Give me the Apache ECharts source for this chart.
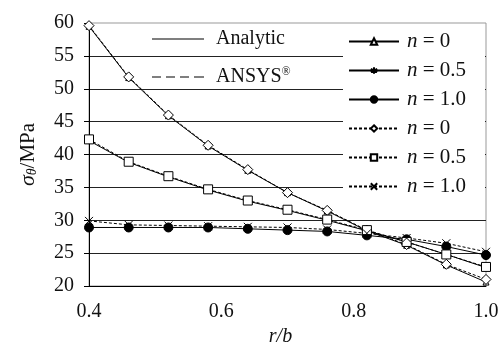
<!DOCTYPE html>
<html>
<head>
<meta charset="utf-8">
<script src="https://cdn.jsdelivr.net/npm/echarts@6/dist/echarts.min.js"></script>
<style>
  html, body { margin: 0; padding: 0; background: #fff; }
  #main { width: 502px; height: 347px; }
</style>
</head>
<body>
<div id="main"></div>
<script>
  // r/b positions
  var rb = [0.40, 0.46, 0.52, 0.58, 0.64, 0.70, 0.76, 0.82, 0.88, 0.94, 1.00];
  // analytic
  var anN0  = [59.5, 51.7, 45.9, 41.3, 37.6, 34.2, 31.4, 28.4, 26.2, 23.2, 20.6];
  var anN05 = [42.1, 38.8, 36.6, 34.6, 32.9, 31.5, 30.0, 28.4, 26.7, 24.8, 22.8];
  var anN1  = [28.9, 28.9, 28.9, 28.9, 28.7, 28.5, 28.3, 27.7, 27.1, 26.0, 24.7];
  // ANSYS
  var feN0  = [59.6, 51.8, 46.0, 41.4, 37.7, 34.2, 31.5, 28.5, 26.3, 23.3, 21.0];
  var feN05 = [42.3, 38.9, 36.7, 34.7, 33.0, 31.6, 30.1, 28.5, 26.7, 24.8, 22.9];
  var feN1  = [29.9, 29.3, 29.2, 29.1, 29.0, 28.9, 28.6, 28.0, 27.3, 26.5, 25.2];
  var yTicks = [20, 25, 30, 35, 40, 45, 50, 55, 60];

  var fnt = 'Liberation Serif';
  var starPath = 'path://M5,0L5,10M0.7,2.5L9.3,7.5M9.3,2.5L0.7,7.5';
  var crossPath = 'path://M0,0L10,10M10,0L0,10';
  var solidIcon = 'path://M0,0h52v1h-52z';
  var dashIcon = 'path://M0,0h9v1h-9zM14,0h9v1h-9zM28,0h9v1h-9zM42,0h10v1h-10z';

  function pts(ys) {
    return rb.map(function (x, i) { return [x, ys[i]]; });
  }
  var labels = {
    A0: '{i|n} = 0', A05: '{i|n} = 0.5', A1: '{i|n} = 1.0',
    F0: '{i|n} = 0', F05: '{i|n} = 0.5', F1: '{i|n} = 1.0'
  };

  function line(name, ys, dashed, symbol, size, fill) {
    return {
      name: name,
      type: 'line',
      data: pts(ys),
      symbol: symbol,
      symbolSize: size,
      showSymbol: true,
      lineStyle: { color: '#000', width: 1, type: dashed ? [3, 2] : 'solid' },
      itemStyle: { color: fill, borderColor: '#000', borderWidth: 1 },
      emphasis: { disabled: true },
      z: 3
    };
  }

  var option = {
    animation: false,
    backgroundColor: '#fff',
    textStyle: { fontFamily: fnt, color: '#111' },
    grid: {
      left: 89, right: 16, top: 23, bottom: 61,
      show: true, borderColor: '#999', borderWidth: 1,
      outerBoundsMode: 'none',
      containLabel: false
    },
    graphic: [{
      type: 'rect',
      z: 1,
      shape: { x: 343, y: 24, width: 142, height: 194 },
      style: { fill: '#fff' }
    }],
    legend: [{
      data: [{ name: 'Analytic', icon: solidIcon }, { name: 'ANSYS', icon: dashIcon }],
      orient: 'vertical',
      left: 147, top: 24,
      itemWidth: 52, itemHeight: 1, itemGap: 17,
      formatter: function (n) { return n === 'ANSYS' ? 'ANSYS{sup|®}' : n; },
      textStyle: {
        fontFamily: fnt, fontSize: 20, color: '#111', lineHeight: 20,
        padding: [0, 0, 0, 7],
        rich: { sup: { fontFamily: fnt, fontSize: 12, padding: [0, 0, 10, 0] } }
      }
    }, {
      data: ['A0', 'A05', 'A1', 'F0', 'F05', 'F1'],
      orient: 'vertical',
      left: 343, top: 26,
      itemWidth: 50, itemHeight: 8, itemGap: 8,
      formatter: function (n) { return labels[n]; },
      textStyle: {
        fontFamily: fnt, fontSize: 21, color: '#111', lineHeight: 20,
        padding: [0, 0, 0, 3],
        rich: { i: { fontFamily: fnt, fontSize: 21, fontStyle: 'italic', lineHeight: 20 } }
      }
    }],
    xAxis: {
      type: 'value',
      min: 0.4, max: 1.0, interval: 0.2,
      name: 'r/b',
      nameLocation: 'middle',
      nameGap: 38,
      nameTextStyle: { fontFamily: fnt, fontSize: 20, fontStyle: 'italic', color: '#111', padding: [0, 14, 0, 0] },
      axisLine: { lineStyle: { color: '#000', width: 1 } },
      axisTick: { show: false },
      axisLabel: {
        fontFamily: fnt, fontSize: 20, color: '#111', margin: 16,
        formatter: function (v) { return v.toFixed(1); }
      },
      splitLine: { show: false }
    },
    yAxis: {
      type: 'value',
      min: yTicks[0], max: yTicks[yTicks.length - 1], interval: 5,
      name: '{s|σ}{sub|θ}/MPa',
      nameLocation: 'middle',
      nameGap: 50,
      nameRotate: 90,
      nameTextStyle: {
        fontFamily: fnt, fontSize: 21, color: '#111',
        rich: {
          s: { fontFamily: fnt, fontSize: 22, fontStyle: 'italic' },
          sub: { fontFamily: fnt, fontSize: 14, fontStyle: 'italic', padding: [8, 0, 0, 0] }
        }
      },
      axisLine: { show: true, lineStyle: { color: '#000', width: 1 } },
      axisTick: { show: true, length: 5, lineStyle: { color: '#000' } },
      axisLabel: { fontFamily: fnt, fontSize: 20, color: '#111', margin: 15 },
      splitLine: { show: true, showMaxLine: false, lineStyle: { color: '#222', width: 1 } }
    },
    series: [
      { name: 'Analytic', type: 'line', data: [], symbol: 'none',
        lineStyle: { color: '#000', width: 1 }, itemStyle: { color: '#000' } },
      { name: 'ANSYS', type: 'line', data: [], symbol: 'none',
        lineStyle: { color: '#000', width: 1, type: [5, 3] }, itemStyle: { color: '#000' } },
      line('A0', anN0, false, 'triangle', 6, '#fff'),
      line('A05', anN05, false, starPath, 7, 'none'),
      line('A1', anN1, false, 'circle', 9, '#000'),
      line('F0', feN0, true, 'diamond', 10, '#fff'),
      line('F05', feN05, true, 'rect', 9, '#fff'),
      line('F1', feN1, true, crossPath, 8, 'none')
    ]
  };

  echarts.init(document.getElementById('main')).setOption(option);
</script>
</body>
</html>
